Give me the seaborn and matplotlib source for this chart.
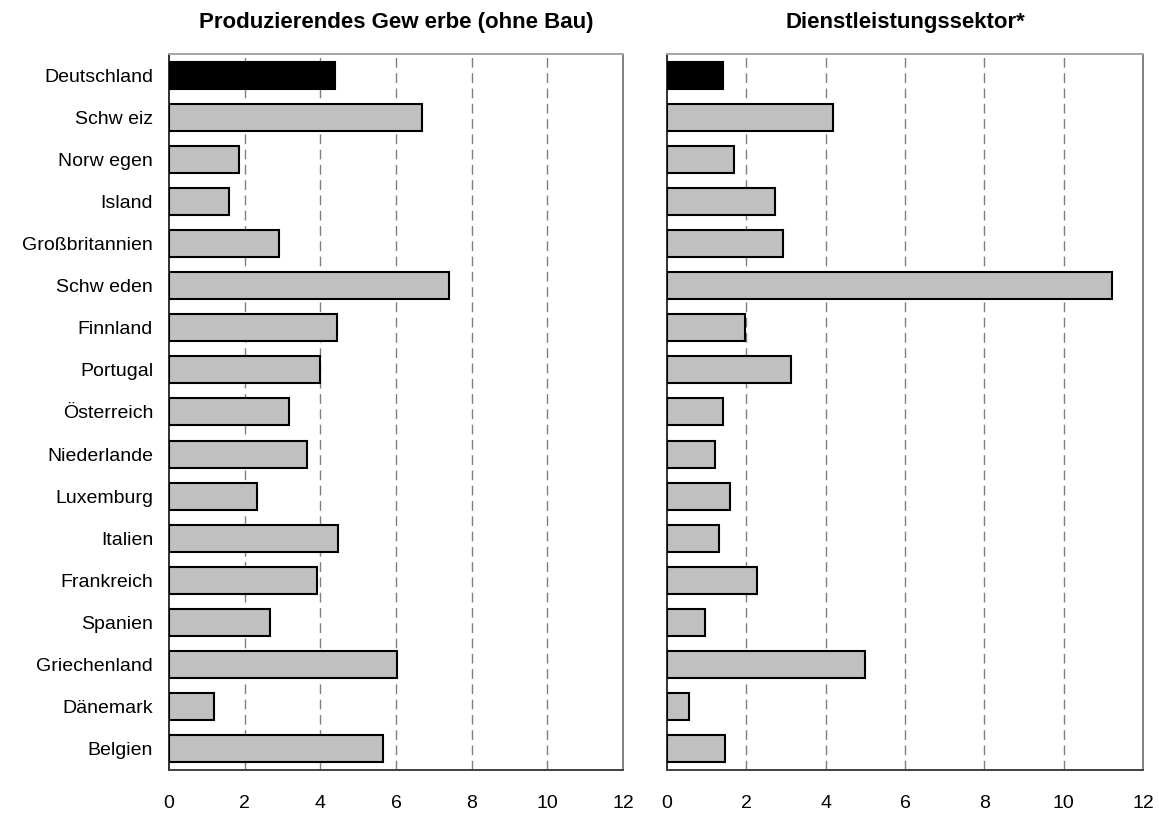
import matplotlib
matplotlib.use("Agg")
import matplotlib.pyplot as plt
import seaborn as sns
import pandas as pd

# Countries, top to bottom
countries = [
    "Deutschland", "Schw eiz", "Norw egen", "Island", "Großbritannien",
    "Schw eden", "Finnland", "Portugal", "Österreich", "Niederlande",
    "Luxemburg", "Italien", "Frankreich", "Spanien", "Griechenland",
    "Dänemark", "Belgien",
]

# Values per sector
produzierendes_gewerbe = [4.4, 6.7, 1.85, 1.58, 2.9, 7.4, 4.45, 4.0, 3.17,
                          3.64, 2.32, 4.48, 3.9, 2.68, 6.03, 1.2, 5.65]
dienstleistung = [1.42, 4.18, 1.7, 2.72, 2.92, 11.23, 1.96, 3.12, 1.41,
                  1.21, 1.6, 1.31, 2.27, 0.96, 4.99, 0.56, 1.46]

titles = ["Produzierendes Gew erbe (ohne Bau)", "Dienstleistungssektor*"]
xticks = [0, 2, 4, 6, 8, 10, 12]

sns.set_theme(style="white")
plt.rcParams["font.family"] = ["Liberation Sans", "DejaVu Sans"]
plt.rcParams["text.color"] = "black"
plt.rcParams["xtick.color"] = "black"
plt.rcParams["ytick.color"] = "black"

df = pd.DataFrame({
    "Land": countries,
    "Gewerbe": produzierendes_gewerbe,
    "Dienst": dienstleistung,
})
palette = {c: "#c0c0c0" for c in countries}
palette[countries[0]] = "#000000"

fig = plt.figure(figsize=(11.59, 8.14), dpi=100)
ax_l = fig.add_axes([0.1458, 0.0541, 0.3917, 0.8796])
ax_r = fig.add_axes([0.5755, 0.0541, 0.4107, 0.8796])

for ax, col, title in [(ax_l, "Gewerbe", titles[0]), (ax_r, "Dienst", titles[1])]:
    sns.barplot(data=df, y="Land", x=col, hue="Land", palette=palette,
                order=countries, orient="h", width=0.64, legend=False,
                edgecolor="black", linewidth=1.5, saturation=1, ax=ax, zorder=3)
    ax.set_xlim(0, 12)
    ax.set_ylim(len(countries) - 0.5, -0.5)
    ax.set_xticks(xticks)
    ax.set_xticklabels([str(t) for t in xticks], fontsize=14)
    for g in xticks[1:-1]:
        ax.axvline(g, color="#7f7f7f", linestyle=(0, (7, 4)), linewidth=1.0, zorder=1)
    ax.set_xlabel("")
    ax.set_ylabel("")
    ax.tick_params(axis="x", length=0, pad=18)
    ax.tick_params(axis="y", length=0, pad=11.5, labelsize=14)
    ax.spines["left"].set_color("#303030")
    ax.spines["bottom"].set_color("#404040")
    ax.spines["top"].set_color("#a6a6a6")
    ax.spines["right"].set_color("#808080")
    for s in ax.spines.values():
        s.set_linewidth(1.4)
        s.set_visible(True)
    ax.set_title(title, fontsize=16, fontweight="bold", pad=19, color="black")

ax_r.set_yticklabels([])

fig.savefig("out.png", dpi=100, facecolor="white")
